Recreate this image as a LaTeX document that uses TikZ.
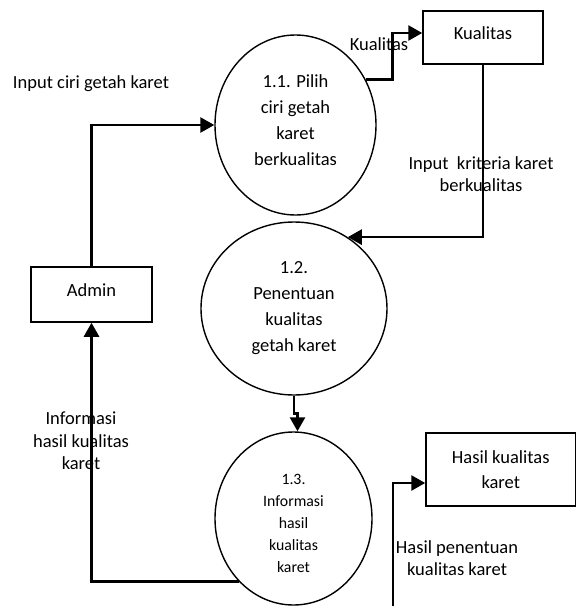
\documentclass[tikz,border=0pt]{standalone}
\usepackage{fontspec}
\setmainfont{Carlito}
\usepackage{tikz}
\usetikzlibrary{shapes.geometric}
\usetikzlibrary{arrows.meta}

\begin{document}
\begin{tikzpicture}[x=1pt, y=-1pt,
proc/.style = {ellipse, draw=black, line width=1.4pt, inner sep=0pt, align=center, font=\fontsize{18.5}{26}\selectfont},
store/.style = {rectangle, draw=black, line width=1.5pt, inner sep=0pt, align=center, font=\fontsize{18.5}{25}\selectfont},
flow/.style = {line width=2.7pt, -{Triangle[length=14pt,width=15pt]}},
lbl/.style = {align=center, font=\fontsize{18.5}{22.5}\selectfont}]
\useasboundingbox (0,0) rectangle (576,606);
\node[store, minimum width=121pt, minimum height=55pt] (admin) at (91.5,294.5) {Admin\rule[-8pt]{0pt}{8pt}};
\node[store, minimum width=120pt, minimum height=53pt] (kual) at (483,37.5) {Kualitas\rule[-9pt]{0pt}{9pt}};
\node[store, minimum width=149.5pt, minimum height=73pt] (hasil) at (500.75,469.5) {Hasil kualitas\\karet};
\node[proc, minimum width=161pt, minimum height=180pt] (e1) at (295.5,125) {1.1. Pilih\\ciri getah\\karet\\berkualitas\rule[-10pt]{0pt}{10pt}};
\node[proc, minimum width=186pt, minimum height=173pt] (e2) at (294,308.5) {1.2.\\Penentuan\\kualitas\\getah karet};
\node[proc, minimum width=157pt, minimum height=173pt, font=\fontsize{15.8}{22}\selectfont] (e3) at (293.5,518.5) {\rule{0pt}{20pt}1.3.\\Informasi\\hasil\\kualitas\\karet};
\coordinate (hin) at (393,606);

\draw[flow] (admin.north) |- (e1.west);
\draw[flow] (e1.33) -- ++(27,0) |- ([yshift=4.5pt]kual.west);
\draw[flow] (kual.south) |- (e2.53);
\draw[flow] (e2.south) -- ++(0,18) -| ([xshift=4pt]e3.north);
\draw[flow] (e3.229) -| (admin.south);
\draw[flow] (hin) |- ([yshift=-13.5pt]hasil.west);

\node[lbl] (lkual) at (379,44) {Kualitas};
\node[lbl] (linput) at (91,84) {Input ciri getah karet};
\node[lbl] (lkrit) at (481,174) {Input\ \ kriteria karet\\berkualitas};
\node[lbl] (linfo) at (81,441) {Informasi\\hasil kualitas\\karet};
\node[lbl] (lhasil) at (457,558) {Hasil penentuan\\kualitas karet};
\end{tikzpicture}
\end{document}
